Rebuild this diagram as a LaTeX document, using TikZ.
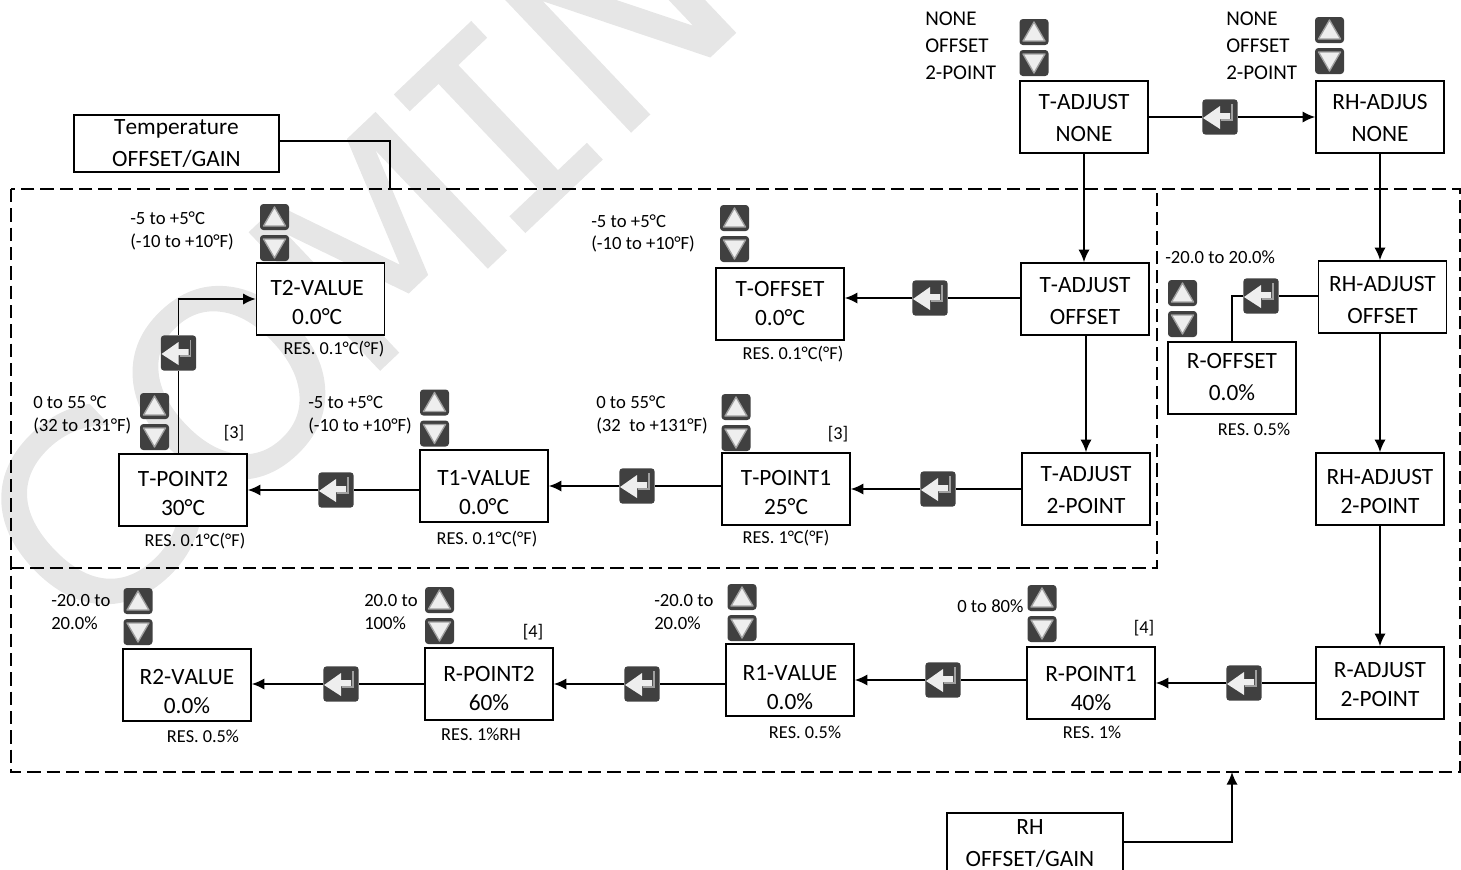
\documentclass[tikz,border=0pt]{standalone}
\usepackage{fontspec}
\setmainfont[Kerning=Off]{Carlito}
\newfontfamily\marksans[AutoFakeBold=0.6]{DejaVu Sans}
\newfontfamily\markmono[AutoFakeBold=0.6]{DejaVu Sans Mono}
\usepackage{xcolor}
\usetikzlibrary{arrows.meta,positioning,calc}
\definecolor{rkey}{HTML}{404040}
\definecolor{rglyph}{HTML}{EEEEEE}
\definecolor{rrim}{HTML}{A0A0A0}
\definecolor{rmark}{HTML}{E6E6E6}
\tikzset{
  flow/.style={line width=1.3pt,-{Latex[length=9.5pt,width=8.5pt]}},
  link/.style={line width=1.3pt},
  zone/.style={line width=1.1pt,dash pattern=on 10pt off 4.5pt},
  stepbox/.style={draw,line width=1.2pt,fill=white,minimum width=96pt,minimum height=54pt,inner sep=0pt,align=center,font=\fontsize{17.5}{21.75}\selectfont},
  loosebox/.style={stepbox,font=\fontsize{17.5}{24}\selectfont},
  low/.style={text height=#1},
  menutxt/.style={anchor=west,inner sep=0pt,align=left,font=\fontsize{15.75}{20.25}\selectfont},
  rangetxt/.style={anchor=west,inner sep=0pt,align=left,font=\fontsize{14}{16.75}\selectfont},
  restxt/.style={inner sep=0pt,font=\fontsize{13.7}{16}\selectfont},
  keybase/.style={fill=rkey,rounded corners=2.5pt,inner sep=0pt},
  upkey/.style={keybase,minimum width=21.75pt,minimum height=19.5pt,path picture={
    \begin{scope}[shift={(path picture bounding box.center)},sharp corners]
      \draw[rrim,fill=rglyph,line width=1pt,line join=round] (0,-10) -- (11,9) -- (-11,9) -- cycle;
    \end{scope}}},
  downkey/.style={keybase,minimum width=21.75pt,minimum height=19.5pt,path picture={
    \begin{scope}[shift={(path picture bounding box.center)},sharp corners]
      \draw[rrim,fill=rglyph,line width=1pt,line join=round] (0,10) -- (11,-9) -- (-11,-9) -- cycle;
    \end{scope}}},
  enterkey/.style={keybase,minimum size=26.5pt,path picture={
    \begin{scope}[shift={(path picture bounding box.center)},sharp corners]
      \fill[rglyph] (-17,1) -- (0,-11) -- (0,-4) -- (10,-4) -- (10,2) -- (0,2) -- (0,12) -- cycle;
      \draw[rrim,line width=1pt] (12,-13) -- (12,3) -- (1,3);
    \end{scope}}},
}
\begin{document}
\begin{tikzpicture}[x=0.75pt,y=-0.75pt]
  \useasboundingbox (0,0) rectangle (1461,869);
  \clip (0,0) rectangle (1461,869);
  \node[rotate=43.5,anchor=base west,text=rmark,inner sep=0pt,font=\fontsize{195}{195}\marksans\bfseries] (mark) at (88,647) {CO\kern-7pt M\kern-18pt{\markmono\bfseries I}\kern-8pt N};

  \draw[zone] (11,189) rectangle (1460,772);
  \draw[zone] (11,568) -- (1157,568) -- (1157,189);

  \node[loosebox,low=37.5pt] (tnone) at (1084,117) {T-ADJUST\\NONE};
  \node[loosebox,low=37.5pt] (rhnone) at (1380,117) {RH-ADJUS\\NONE};
  \node[loosebox,low=39pt] (toffs) at (1085,299) {T-ADJUST\\OFFSET};
  \node[stepbox,low=32.25pt] (tovalue) at (780,304) {T-OFFSET\\0.0°C};
  \node[loosebox,low=40.5pt] (rhoffs) at (1382.5,297) {RH-ADJUST\\OFFSET};
  \node[loosebox,low=34.5pt] (rovalue) at (1232,378) {R-OFFSET\\0.0\%};
  \node[loosebox,low=37.5pt] (ttwo) at (1086,489) {T-ADJUST\\2-POINT};
  \node[stepbox,low=39pt] (tpoint1) at (786,489) {T-POINT1\\25°C};
  \node[stepbox,low=43.5pt] (t1value) at (484,486) {T1-VALUE\\0.0°C};
  \node[stepbox,low=38.25pt] (tpoint2) at (183,490) {T-POINT2\\30°C};
  \node[stepbox,low=38.25pt] (t2value) at (320.5,299) {T2-VALUE\hspace*{5pt}\\0.0°C\hspace*{5pt}};
  \node[stepbox,low=36.75pt] (rhtwo) at (1380,489) {RH-ADJUST\\2-POINT};
  \node[stepbox,low=36pt] (rtwo) at (1380,683) {R-ADJUST\\2-POINT};
  \node[stepbox,low=41.25pt] (rpoint1) at (1091,683) {R-POINT1\\40\%};
  \node[stepbox,low=45pt] (r1value) at (790,680) {R1-VALUE\\0.0\%};
  \node[stepbox,low=39.75pt] (rpoint2) at (489,684) {R-POINT2\\60\%};
  \node[stepbox,low=43.5pt] (r2value) at (187,685) {R2-VALUE\\0.0\%};
  \node[loosebox,minimum width=153.75pt,minimum height=42.75pt] (tempbox) at (176.5,143.5) {Temperature\\OFFSET/GAIN};
  \node[loosebox,low=36.75pt,minimum width=132pt,minimum height=43.5pt] (rhbox) at (1035,842) {RH\hspace*{7.5pt}\\OFFSET/GAIN\hspace*{7.5pt}};

  \foreach \nm/\x/\y in {e1/1220/117,e2/930/298,e3/938/489,e4/637/486,e5/336/490,e6/178.5/353,e7/1261/296,e8/1244/683,e9/943/680,e10/642/684,e11/341/684}
    \node[enterkey] (\nm) at (\x,\y) {};

  \foreach \nm/\x/\y in {k1/1034/32,k2/1329.5/30,k3/734.5/218,k4/274.5/217,k5/154.5/406,k6/434.5/402.5,k7/736/407,k8/1182.5/293,k9/1042/598,k10/742/597,k11/439.5/600,k12/138/601} {
    \node[upkey] (\nm up) at (\x,\y) {};
    \node[downkey] (\nm down) at (\x,\y+31) {};
  }

  \coordinate (tempend) at (390,189);
  \coordinate (rhend) at (1232,772);
  \draw[link] ([yshift=1.9pt]tempbox.east) -| (tempend);
  \draw[flow] (rhbox.east) -| (rhend);

  \draw[link] (e1 -| tnone.east) -- (e1);
  \draw[flow] (e1) -- (e1 -| rhnone.west);
  \draw[flow] (tnone.south) -- (tnone.south |- toffs.north);
  \draw[flow] (ttwo.north |- toffs.south) -- (ttwo.north);
  \draw[flow] (rhnone.south) -- (rhnone.south |- rhoffs.north);
  \draw[flow] (rhtwo.north |- rhoffs.south) -- (rhtwo.north);
  \draw[flow] (rhtwo.south) -- (rtwo.north);
  \draw[link] (e2 -| toffs.west) -- (e2);
  \draw[flow] (e2) -- (e2 -| tovalue.east);
  \draw[link] (e3 -| ttwo.west) -- (e3);
  \draw[flow] (e3) -- (e3 -| tpoint1.east);
  \draw[link] (e4 -| tpoint1.west) -- (e4);
  \draw[flow] (e4) -- (e4 -| t1value.east);
  \draw[link] (e5 -| t1value.west) -- (e5);
  \draw[flow] (e5) -- (e5 -| tpoint2.east);
  \draw[link] (e6.south) -- (e6.south |- tpoint2.north);
  \draw[flow] (e6.north) |- (t2value.west);
  \draw[link] (e7 -| rhoffs.west) -- (e7);
  \draw[link] (e7.west) -| (rovalue.north);
  \draw[link] (e8 -| rtwo.west) -- (e8);
  \draw[flow] (e8) -- (e8 -| rpoint1.east);
  \draw[link] (e9 -| rpoint1.west) -- (e9);
  \draw[flow] (e9) -- (e9 -| r1value.east);
  \draw[link] (e10 -| r1value.west) -- (e10);
  \draw[flow] (e10) -- (e10 -| rpoint2.east);
  \draw[link] (e11 -| rpoint2.west) -- (e11);
  \draw[flow] (e11) -- (e11 -| r2value.east);

  \node[menutxt] (menu1) at (925,46) {NONE\\OFFSET\\2-POINT};
  \node[menutxt] (menu2) at (1226,46) {NONE\\OFFSET\\2-POINT};
  \node[rangetxt] (range1) at (130,231) {-5 to +5°C\\(-10 to +10°F)};
  \node[rangetxt] (range2) at (591,233.5) {-5 to +5°C\\(-10 to +10°F)};
  \node[rangetxt] (range3) at (1165,257) {-20.0 to 20.0\%};
  \node[rangetxt] (range4) at (33,415) {0 to 55 °C\\(32 to 131°F)};
  \node[rangetxt] (range5) at (308,415) {-5 to +5°C\\(-10 to +10°F)};
  \node[rangetxt] (range6) at (596,415) {0 to 55°C\\(32~~to +131°F)};
  \node[rangetxt] (range7) at (51,612) {-20.0 to\\20.0\%};
  \node[rangetxt] (range8) at (364,612) {20.0 to\\100\%};
  \node[rangetxt] (range9) at (654,612) {-20.0 to\\20.0\%};
  \node[rangetxt] (range10) at (957,606) {0 to 80\%};

  \node[restxt] (note1) at (234,433) {[3]};
  \node[restxt] (note2) at (838,434) {[3]};
  \node[restxt] (note3) at (533,632) {[4]};
  \node[restxt] (note4) at (1144,628) {[4]};

  \node[restxt] (res1) at (334,349) {RES. 0.1°C(°F)};
  \node[restxt] (res2) at (793,354) {RES. 0.1°C(°F)};
  \node[restxt] (res3) at (1254,429) {RES. 0.5\%};
  \node[restxt] (res4) at (195,541) {RES. 0.1°C(°F)};
  \node[restxt] (res5) at (487,539) {RES. 0.1°C(°F)};
  \node[restxt] (res6) at (786,538) {RES. 1°C(°F)};
  \node[restxt] (res7) at (203,736) {RES. 0.5\%};
  \node[restxt] (res8) at (481,734) {RES. 1\%RH};
  \node[restxt] (res9) at (805,732) {RES. 0.5\%};
  \node[restxt] (res10) at (1092,732) {RES. 1\%};
\end{tikzpicture}
\end{document}
